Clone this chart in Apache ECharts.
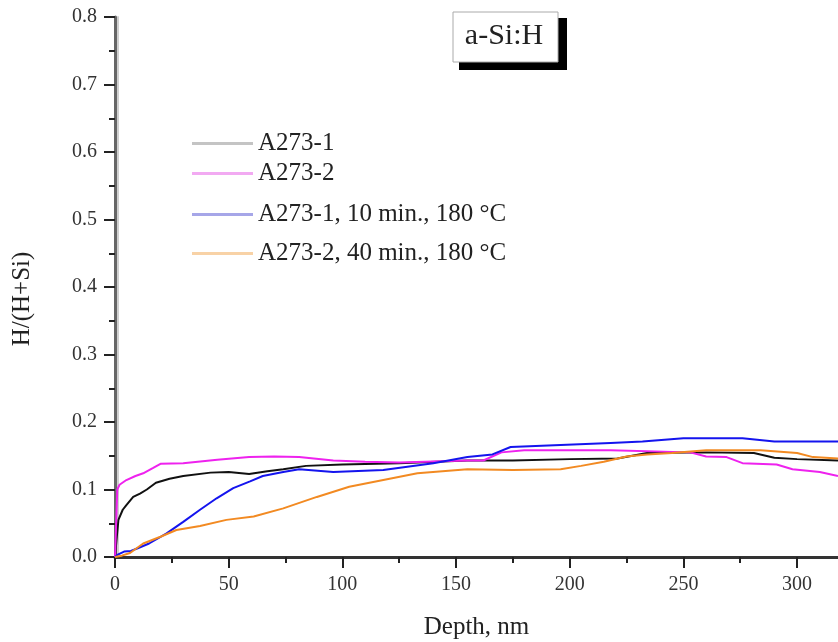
<!DOCTYPE html>
<html>
<head>
<meta charset="utf-8">
<script src="https://cdn.jsdelivr.net/npm/echarts@6/dist/echarts.min.js"></script>
<style>html,body{margin:0;padding:0;background:#fff}#c{width:838px;height:642px}</style>
</head>
<body>
<div id="c"></div>
<script>
// ---- data ----
const seriesNames = ['A273-1', 'A273-2', 'A273-1, 10 min., 180 °C', 'A273-2, 40 min., 180 °C'];

const depthA1 = [0, 0.8, 1.5, 3.4, 5, 8, 11, 14, 18, 24, 30, 42, 50, 59, 67, 74, 84, 100, 125, 155, 175, 200, 221, 234, 260, 281, 290, 300, 318];
const hA1     = [0, 0.03, 0.055, 0.07, 0.077, 0.089, 0.094, 0.1, 0.11, 0.116, 0.12, 0.125, 0.126, 0.123, 0.127, 0.13, 0.135, 0.137, 0.139, 0.143, 0.143, 0.145, 0.146, 0.154, 0.155, 0.154, 0.147, 0.145, 0.143];

const depthA2 = [0, 0.5, 1, 2, 5, 9, 12.4, 16.8, 20, 30, 45, 59, 70, 81, 96, 110, 125, 155, 162, 170, 180, 196, 218, 253, 260, 269, 276, 291, 298, 310, 318];
const hA2     = [0, 0.05, 0.1, 0.107, 0.114, 0.12, 0.124, 0.132, 0.138, 0.139, 0.144, 0.148, 0.149, 0.148, 0.143, 0.141, 0.14, 0.143, 0.143, 0.155, 0.158, 0.158, 0.158, 0.155, 0.149, 0.148, 0.139, 0.137, 0.13, 0.126, 0.12];

const depthA1a = [0, 1, 4, 7, 10, 15, 22.7, 30, 37.4, 44.7, 52, 59.4, 65, 74, 81, 96, 118, 140, 155, 166, 174, 196, 218, 232, 250, 276, 290, 318];
const hA1a     = [0, 0.003, 0.008, 0.009, 0.013, 0.02, 0.035, 0.052, 0.07, 0.087, 0.102, 0.112, 0.12, 0.126, 0.13, 0.126, 0.129, 0.139, 0.148, 0.152, 0.163, 0.166, 0.169, 0.171, 0.176, 0.176, 0.171, 0.171];

const depthA2a = [0, 3, 6.6, 12.4, 20, 27, 37.4, 49, 61, 74, 88.8, 103, 118, 133, 155, 175, 196, 205, 215, 225, 234, 245, 260, 284, 300, 307, 318];
const hA2a     = [0, 0.002, 0.006, 0.02, 0.03, 0.04, 0.046, 0.055, 0.06, 0.072, 0.089, 0.104, 0.114, 0.124, 0.13, 0.129, 0.13, 0.135, 0.141, 0.149, 0.152, 0.154, 0.158, 0.158, 0.154, 0.148, 0.146];

const xMajorTicks = [0, 50, 100, 150, 200, 250, 300];
const xMinorTicks = [25, 75, 125, 175, 225, 275];

// ---- chart ----
const FONT = '"Liberation Serif", "DejaVu Serif", serif';
const lineColors = ['#111111', '#ee22ee', '#1414ee', '#f28a22'];
const legendColors = ['#c4c4c4', '#f2aaf2', '#a6a6e8', '#f8d2a6'];
const legendTops = [131, 161, 202, 241];

function pairs(xs, ys) { return xs.map((x, i) => [x, ys[i]]); }
const dataSets = [pairs(depthA1, hA1), pairs(depthA2, hA2), pairs(depthA1a, hA1a), pairs(depthA2a, hA2a)];

const chart = echarts.init(document.getElementById('c'), null, {renderer: 'canvas'});
chart.setOption({
  animation: false,
  backgroundColor: '#fff',
  grid: {left: 115, right: 0, top: 17, bottom: 85, containLabel: false, outerBoundsMode: 'none'},
  xAxis: [{
    type: 'value', min: 0, max: 318, interval: 50, position: 'bottom',
    name: 'Depth, nm', nameLocation: 'middle', nameGap: 58,
    nameTextStyle: {fontFamily: FONT, fontSize: 25, color: '#222'},
    axisLine: {show: true, onZero: false, lineStyle: {color: '#333', width: 3}},
    axisTick: {show: true, customValues: xMajorTicks, length: 11, lineStyle: {color: '#222', width: 2}},
    axisLabel: {customValues: xMajorTicks, margin: 18, fontFamily: FONT, fontSize: 20, color: '#333', formatter: v => String(v)},
    splitLine: {show: false}
  }, {
    type: 'value', min: 0, max: 318, position: 'bottom',
    axisLine: {show: false},
    axisTick: {show: true, customValues: xMinorTicks, length: 6, lineStyle: {color: '#222', width: 2}},
    axisLabel: {show: false},
    splitLine: {show: false}
  }],
  yAxis: [{
    type: 'value', min: 0, max: 0.8, interval: 0.1, position: 'left',
    name: 'H/(H+Si)', nameLocation: 'middle', nameGap: 80, nameRotate: 90,
    nameTextStyle: {fontFamily: FONT, fontSize: 25, color: '#222', padding: [0, 24, 0, 0]},
    axisLine: {show: true, onZero: false, lineStyle: {color: '#666', width: 3}},
    axisTick: {show: true, length: 11, lineStyle: {color: '#222', width: 2}},
    minorTick: {show: true, splitNumber: 2, length: 6, lineStyle: {color: '#222', width: 2}},
    axisLabel: {margin: 18, fontFamily: FONT, fontSize: 20, color: '#333', formatter: v => v.toFixed(1)},
    splitLine: {show: false}
  }, {
    type: 'value', min: 0, max: 0.8, position: 'left', offset: -3,
    axisLine: {show: true, onZero: false, lineStyle: {color: '#d0d0d0', width: 2}},
    axisTick: {show: false}, axisLabel: {show: false}, splitLine: {show: false}
  }],
  legend: seriesNames.map((n, i) => ({
    data: [{name: n, itemStyle: {color: legendColors[i]}}],
    left: 192, top: legendTops[i], padding: 0,
    icon: 'rect', itemWidth: 61, itemHeight: 3, itemGap: 6,
    selectedMode: false,
    textStyle: {fontFamily: FONT, fontSize: 25, color: '#222'}
  })),
  graphic: [
    {type: 'rect', shape: {x: 459, y: 18, width: 108, height: 52}, style: {fill: '#000'}, z: 10},
    {type: 'rect', shape: {x: 453, y: 12, width: 105, height: 50}, style: {fill: '#fff', stroke: '#aaa', lineWidth: 1}, z: 11},
    {type: 'text', x: 504, y: 36, style: {text: 'a-Si:H', font: '30px "Liberation Serif"', fill: '#222', align: 'center', verticalAlign: 'middle'}, z: 12}
  ],
  series: seriesNames.map((n, i) => ({
    name: n, type: 'line', xAxisIndex: 0, yAxisIndex: 0,
    data: dataSets[i], showSymbol: false, symbol: 'none',
    lineStyle: {color: lineColors[i], width: 2},
    itemStyle: {color: lineColors[i]},
    clip: true, z: 3 + i
  }))
});
</script>
</body>
</html>
